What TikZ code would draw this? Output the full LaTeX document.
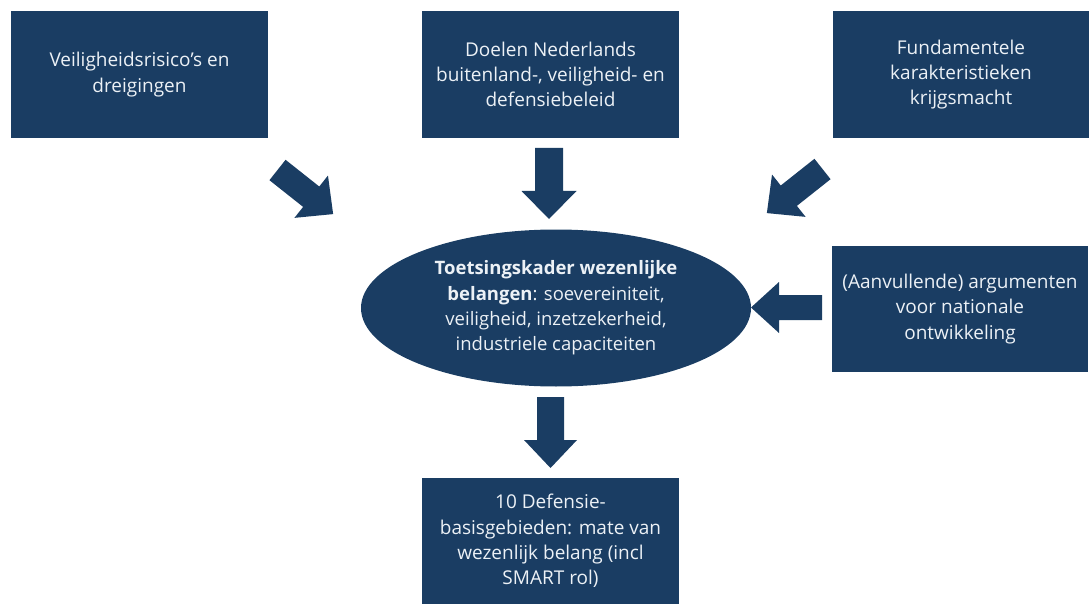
\documentclass[tikz,border=0pt]{standalone}
\usepackage{fontspec}
\setmainfont{Open Sans}
\usetikzlibrary{shapes.geometric}
\definecolor{navy}{RGB}{26,61,99}
\definecolor{txt}{RGB}{236,241,246}
\tikzset{
  box/.style={fill=navy, text=txt, minimum width=257pt, minimum height=127pt,
    inner sep=0pt, align=center, font=\fontsize{19}{25.3}\selectfont},
  oval/.style={ellipse, fill=navy, text=txt, minimum width=390pt, minimum height=157pt,
    inner sep=0pt, align=center, font=\fontsize{18.5}{25.3}\selectfont},
  blk/.style={fill=navy}
}
\newcommand\blkarrow[5]{%
  \begin{scope}[shift={(#1,#2)}, rotate=#3]
    \fill[blk] (0,-#4) -- (43,-#4) -- (43,-#5) -- (71,0) -- (43,#5) -- (43,#4) -- (0,#4) -- cycle;
  \end{scope}}
\begin{document}
\begin{tikzpicture}[x=1pt,y=-1pt]
\useasboundingbox (0,0) rectangle (1089,604);
\node[box] (risk) at (139.5,74.5) {Veiligheidsrisico’s en\\dreigingen};
\node[box] (doel) at (550.5,74.5) {Doelen Nederlands\\buitenland-, veiligheid- en\\defensiebeleid};
\node[box] (fund) at (961,74.5) {Fundamentele\\karakteristieken\\krijgsmacht};
\node[oval] (kader) at (556,308) {\textbf{Toetsingskader wezenlijke}\\\textbf{belangen}: soevereiniteit,\\veiligheid, inzetzekerheid,\\industriele capaciteiten};
\node[box, minimum width=256pt, minimum height=126pt] (arg) at (960,309) {(Aanvullende) argumenten\\voor nationale\\ontwikkeling};
\node[box, minimum height=126pt] (basis) at (550.5,541) {10 Defensie-\\basisgebieden: mate van\\wezenlijk belang (incl\\SMART rol)};
\blkarrow{277.5}{170}{-38.4}{13}{27}
\blkarrow{549}{148}{-90}{14}{27.5}
\blkarrow{822.5}{169}{-141.6}{13}{27}
\blkarrow{822}{307.5}{180}{12.5}{25.5}
\blkarrow{550.5}{397}{-90}{13.5}{26.5}
\end{tikzpicture}
\end{document}
